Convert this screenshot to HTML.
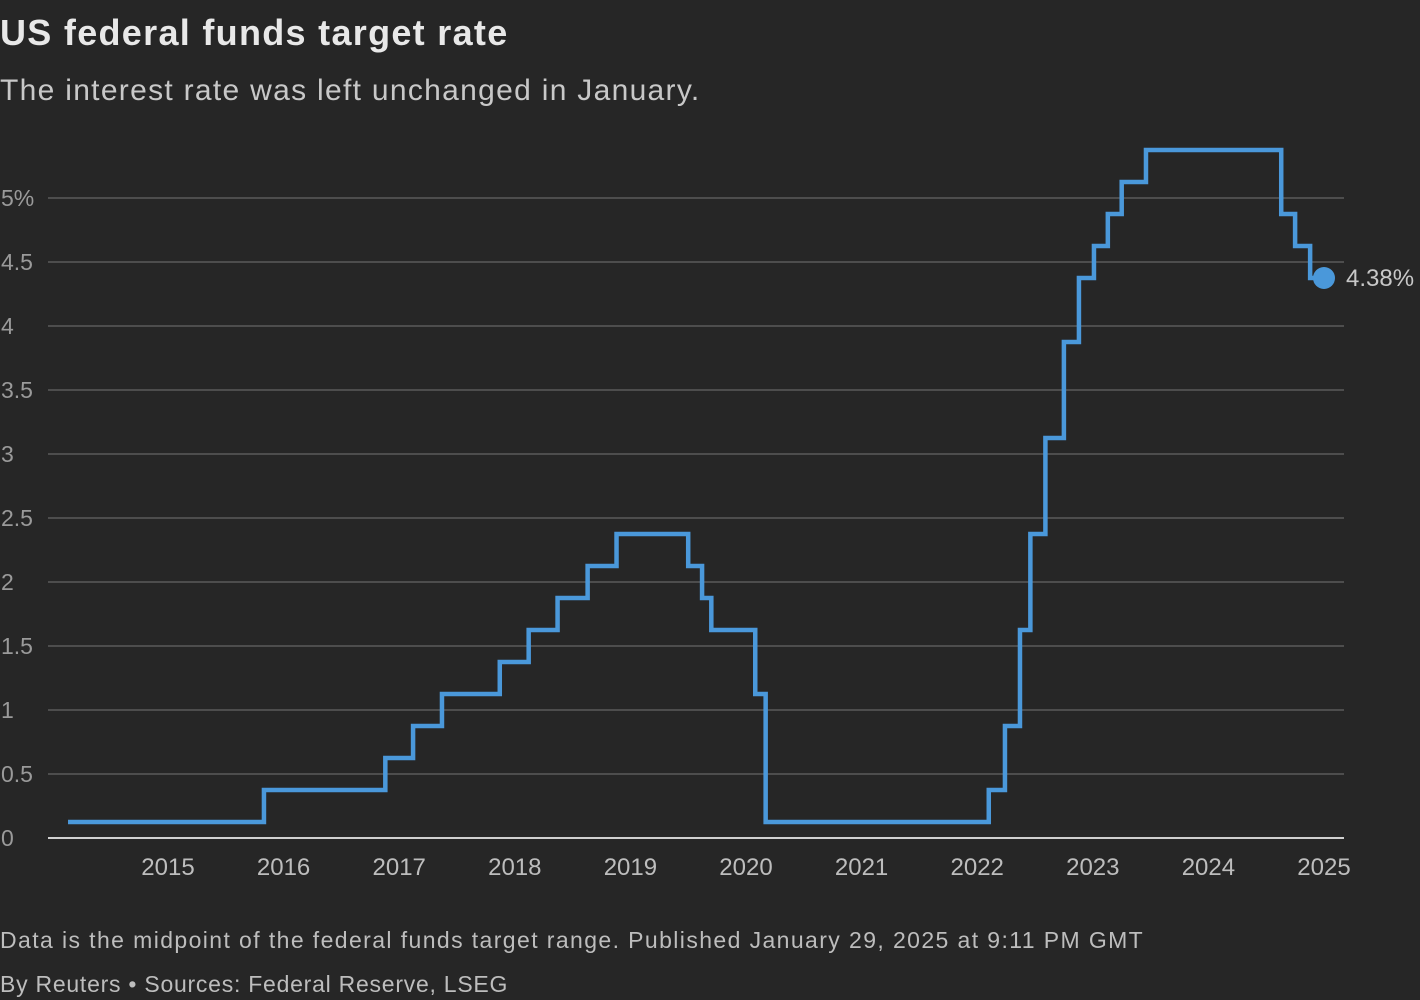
<!DOCTYPE html>
<html><head><meta charset="utf-8">
<style>
html,body{margin:0;padding:0;background:#262626;}
body{width:1420px;height:1000px;overflow:hidden;font-family:"Liberation Sans",sans-serif;position:relative;}
.t{position:absolute;left:0;white-space:nowrap;}
</style></head>
<body>
<div class="t" style="top:12px;font-size:36px;font-weight:bold;color:#e8e8e8;letter-spacing:1.3px;">US federal funds target rate</div>
<div class="t" style="top:74px;font-size:30px;color:#c8c8c8;letter-spacing:1.3px;">The interest rate was left unchanged in January.</div>
<svg id="chart" width="1420" height="1000" style="position:absolute;left:0;top:0;" xmlns="http://www.w3.org/2000/svg"></svg>
<div class="t" style="top:927px;font-size:23px;color:#bdbdbd;letter-spacing:1.4px;">Data is the midpoint of the federal funds target range. Published January 29, 2025 at 9:11 PM GMT</div>
<div class="t" style="top:971px;font-size:23px;color:#bdbdbd;letter-spacing:0.75px;">By Reuters • Sources: Federal Reserve, LSEG</div>
<script>
const yTicks = [0,0.5,1,1.5,2,2.5,3,3.5,4,4.5,5];
const yTickLabels = ["0","0.5","1","1.5","2","2.5","3","3.5","4","4.5","5%"];
const xTicks = [2015,2016,2017,2018,2019,2020,2021,2022,2023,2024,2025];
const stepDates = [2014.135,2015.83,2016.88,2017.12,2017.37,2017.87,2018.12,2018.37,2018.63,2018.88,2019.50,2019.62,2019.70,2020.08,2020.17,2022.10,2022.24,2022.37,2022.46,2022.59,2022.75,2022.88,2023.01,2023.13,2023.25,2023.46,2024.63,2024.75,2024.88];
const stepRates = [0.125,0.375,0.625,0.875,1.125,1.375,1.625,1.875,2.125,2.375,2.125,1.875,1.625,1.125,0.125,0.375,0.875,1.625,2.375,3.125,3.875,4.375,4.625,4.875,5.125,5.375,4.875,4.625,4.375];
const endDate = 2025.0;
const lastLabel = "4.38%";

const svg = document.getElementById('chart');
const NS = "http://www.w3.org/2000/svg";
const xs = v => 168 + (v - 2015) * 115.6;
const ys = v => 838 - v * 128;
function mk(tag, attrs){const e=document.createElementNS(NS,tag);for(const k in attrs)e.setAttribute(k,attrs[k]);svg.appendChild(e);return e;}

yTicks.forEach((v,i)=>{
  const g = mk('line',{x1:48,x2:1344,y1:ys(v),y2:ys(v),stroke:v===0?'#d0d0d0':'#5a5a5a','stroke-width':v===0?2:1.5});
  
  
  const t = mk('text',{x:1,y:ys(v)+8,fill:'#9a9a9a','font-size':23,'font-family':'Liberation Sans, sans-serif'});
  t.textContent = yTickLabels[i];
  
  
});
xTicks.forEach(v=>{
  const t = mk('text',{x:xs(v),y:875,fill:'#bdbdbd','font-size':24,'text-anchor':'middle','font-family':'Liberation Sans, sans-serif'});
  t.textContent = v;
  
  
});
let d = '';
stepDates.forEach((dt,i)=>{
  if(i===0) d += 'M'+xs(dt)+','+ys(stepRates[i]);
  else d += ' H'+xs(dt)+' V'+ys(stepRates[i]);
});
d += ' H'+xs(endDate);
const p = mk('path',{d:d,fill:'none',stroke:'#4a98da','stroke-width':4.5,'stroke-linejoin':'miter'});


const lastRate = stepRates[stepRates.length-1];
const c = mk('circle',{cx:xs(endDate),cy:ys(lastRate),r:11,fill:'#4a98da'});


const lt = mk('text',{x:xs(endDate)+22,y:ys(lastRate)+8,fill:'#c8c8c8','font-size':24,'font-family':'Liberation Sans, sans-serif'});
lt.textContent = lastLabel;


</script>
</body></html>
